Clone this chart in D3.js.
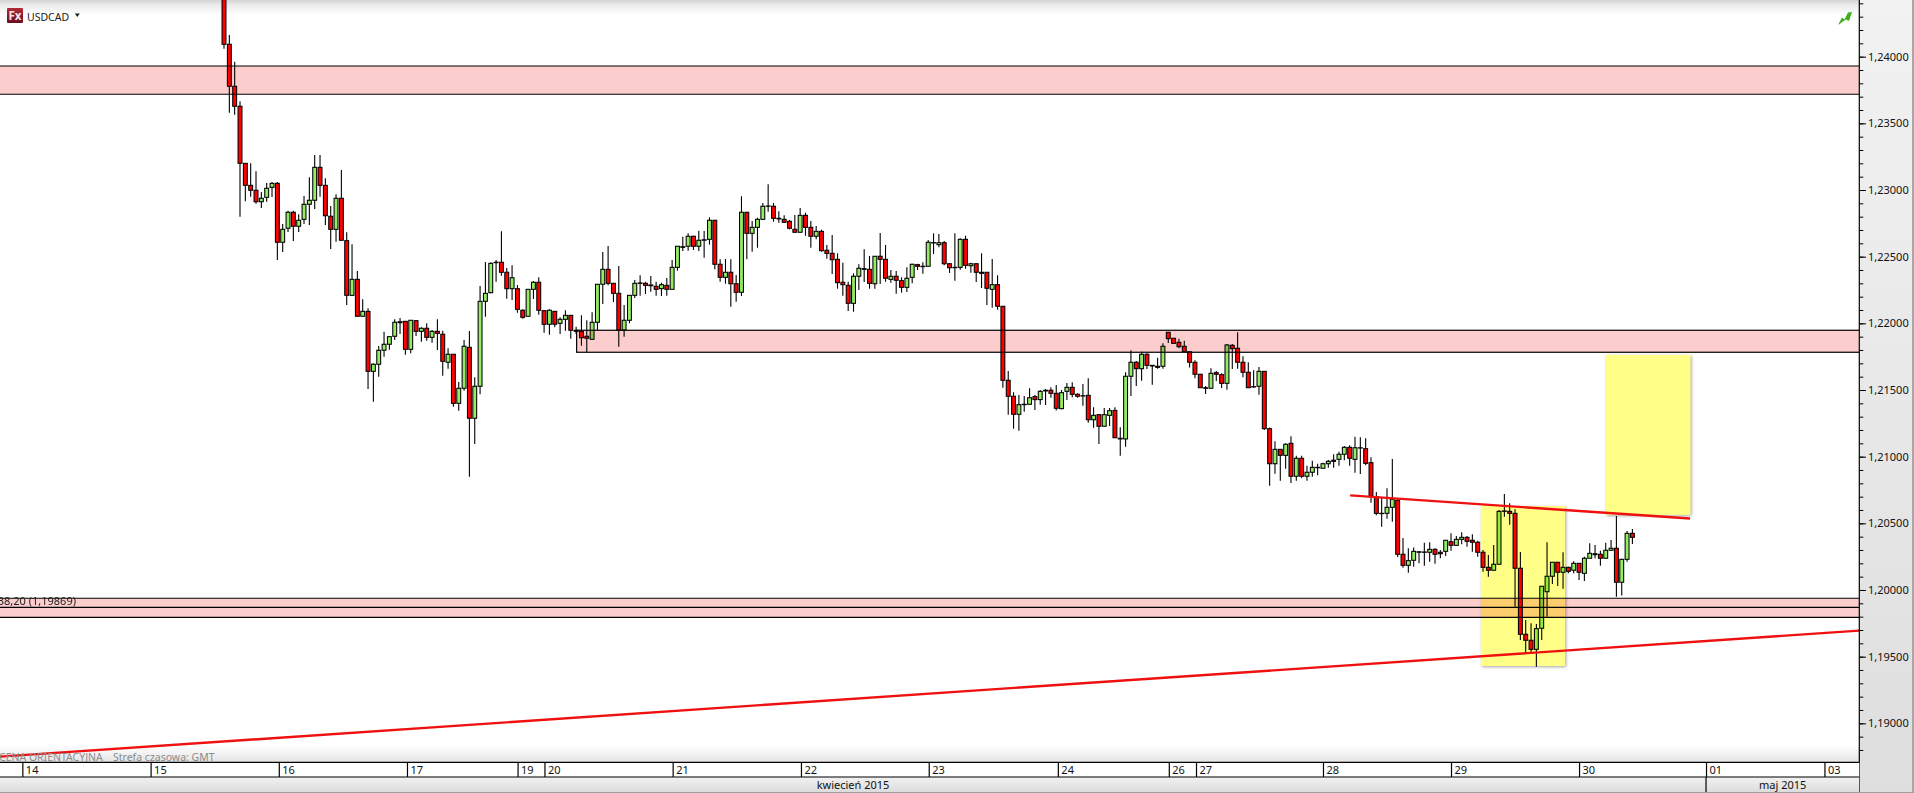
<!DOCTYPE html>
<html><head><meta charset="utf-8">
<script src="https://cdn.jsdelivr.net/npm/d3@7"></script>
<style>
html,body{margin:0;padding:0;background:#fff;overflow:hidden}
svg{display:block;font-family:"Noto Sans",sans-serif}
.mul{mix-blend-mode:multiply}
</style></head><body>
<svg id="c" width="1914" height="793"></svg>
<script>
// Prices in points (1 point = 0.00001)
const highs=[124470,124162,123962,123665,123200,123200,123140,122985,123052,123060,
123060,122745,122845,122845,122818,122955,123095,123263,123263,123088,
122880,122968,123150,122683,122593,122393,122180,122113,121700,121830,
121937,121905,122030,122040,122015,122025,122025,121970,122000,121950,
122030,121945,121813,121768,121560,121875,121943,121595,122280,122460,
122458,122475,122690,122415,122435,122288,122105,122255,122318,122345,
122100,122105,122090,122045,122098,122060,121975,122060,122023,122083,
122295,122535,122580,122300,122430,122138,122210,122325,122360,122312,
122355,122312,122305,122340,122475,122578,122650,122675,122657,122695,
122693,122795,122773,122480,122483,122480,122363,122953,122833,122768,
122792,122903,123043,122903,122840,122810,122775,122813,122865,122830,
122768,122730,122702,122588,122663,122525,122455,122312,122375,122443,
122555,122505,122505,122678,122588,122400,122393,122345,122420,122447,
122447,122458,122625,122675,122670,122618,122450,122675,122638,122657,
122455,122450,122525,122383,122483,122360,122128,121643,121483,121463,
121455,121513,121463,121500,121508,121520,121538,121500,121553,121558,
121475,121545,121588,121370,121320,121365,121365,121370,121220,121633,
121798,121718,121787,121775,121688,121742,121850,121935,121888,121885,
121870,121787,121723,121618,121530,121663,121643,121625,121845,121845,
121933,121753,121708,121648,121673,121640,121218,121115,121055,121100,
121153,121007,121007,120932,120970,120947,120955,120975,121018,121037,
121080,121085,121150,121145,121138,120995,120735,120698,120763,120983,
120680,120390,120313,120318,120290,120355,120358,120313,120300,120375,
120425,120405,120433,120405,120418,120370,120300,120263,120338,120600,
120720,120650,120605,120285,119775,119750,119745,120030,120358,120208,
120208,120283,120175,120215,120200,120250,120350,120338,120295,120355,
120375,120555,120235,120443,120458];
const lows=[124060,123580,123565,122800,122915,122950,122897,122865,122912,122948,
122475,122535,122685,122618,122685,122745,122738,122858,122950,122738,
122558,122612,122623,122138,122205,122053,122053,121508,121412,121600,
121750,121802,121875,121920,121765,121775,121905,121862,121870,121855,
121800,121607,121660,121375,121345,121495,120850,121095,121468,122050,
122225,122312,122357,122185,122175,122080,122035,122053,122183,122065,
121930,121915,121970,121920,121945,121885,121920,121832,121783,121880,
121950,122145,122285,122160,121825,121900,122000,122190,122207,122220,
122237,122207,122205,122207,122255,122395,122543,122545,122550,122543,
122492,122590,122405,122312,122297,122125,122162,122205,122480,122537,
122567,122780,122837,122762,122755,122755,122705,122680,122683,122657,
122567,122630,122537,122485,122370,122260,122207,122093,122087,122250,
122310,122260,122260,122295,122312,122305,122222,122230,122235,122300,
122400,122372,122428,122520,122570,122435,122378,122320,122402,122410,
122380,122310,122265,122138,122117,122102,121517,121315,121210,121195,
121337,121393,121350,121390,121388,121442,121347,121355,121425,121445,
121442,121382,121255,121217,121095,121228,121230,121142,121007,121075,
121455,121530,121570,121658,121540,121660,121660,121853,121850,121813,
121787,121668,121588,121515,121470,121513,121568,121515,121502,121658,
121660,121595,121517,121517,121465,121200,120782,120872,120820,120910,
120803,120820,120838,120820,120850,120860,120913,120917,120917,120932,
120973,120932,120880,120870,120935,120655,120560,120475,120535,120512,
120248,120167,120130,120175,120200,120182,120212,120197,120238,120255,
120295,120330,120343,120325,120287,120250,120137,120100,120148,120193,
120550,120490,119875,119625,119520,119525,119425,119625,119800,120045,
120030,120010,120125,120125,120075,120068,120238,120238,120182,120238,
120298,119950,119958,120212,120345];
const opens=[124470,124093,123778,123628,123200,123035,122998,122912,122945,123020,
123050,122608,122713,122833,122728,122780,122893,122923,123170,123035,
122803,122705,122938,122620,122210,122330,122053,122090,121640,121693,
121798,121843,121903,122005,122015,121805,122020,121940,121963,121895,
121940,121918,121708,121768,121400,121513,121820,121288,121528,122165,
122230,122455,122458,122383,122260,122260,122098,122053,122255,122308,
122095,121993,122090,122000,122030,122060,121948,121940,121903,121880,
122008,122293,122405,122300,122225,121950,122023,122210,122300,122300,
122288,122278,122260,122285,122255,122420,122570,122578,122653,122578,
122623,122630,122773,122443,122345,122383,122297,122233,122833,122675,
122720,122780,122878,122878,122788,122780,122765,122705,122683,122810,
122720,122653,122690,122548,122525,122480,122308,122285,122150,122353,
122405,122405,122297,122503,122480,122330,122353,122320,122270,122345,
122440,122428,122428,122603,122590,122605,122447,122420,122420,122630,
122432,122447,122383,122383,122255,122290,122128,121573,121453,121318,
121390,121393,121450,121428,121493,121498,121475,121360,121490,121520,
121468,121457,121460,121277,121315,121228,121310,121347,121138,121133,
121603,121708,121660,121768,121685,121678,121678,121933,121888,121858,
121828,121787,121708,121618,121517,121513,121630,121615,121550,121835,
121813,121708,121633,121525,121528,121640,121210,120947,121055,121010,
121100,120853,120988,120853,120883,120917,120913,120947,120965,120980,
121018,121070,120980,121065,121060,120955,120698,120575,120575,120620,
120673,120268,120185,120223,120283,120283,120283,120305,120283,120290,
120362,120335,120380,120395,120373,120358,120283,120170,120148,120193,
120590,120590,120575,120163,119668,119623,119555,119713,119987,120103,
120208,120133,120170,120148,120200,120125,120238,120265,120268,120238,
120298,120313,120058,120230,120425];
const closes=[124093,123778,123628,123200,123035,122998,122912,122938,123013,123050,
122608,122705,122833,122728,122773,122893,122923,123170,123035,122807,
122705,122938,122623,122210,122330,122053,122090,121640,121693,121798,
121843,121900,122008,122012,121805,122023,121940,121963,121895,121940,
121925,121715,121768,121400,121513,121828,121288,121528,122165,122225,
122450,122458,122383,122260,122342,122105,122045,122255,122308,122098,
121993,122098,121993,122030,122060,121948,121940,121892,121888,122008,
122293,122405,122300,122225,121950,122023,122210,122300,122303,122285,
122282,122255,122290,122255,122420,122578,122575,122653,122578,122623,
122627,122773,122443,122345,122383,122297,122233,122833,122675,122720,
122780,122878,122880,122788,122783,122758,122713,122683,122810,122720,
122653,122690,122545,122525,122477,122305,122290,122150,122353,122413,
122410,122300,122503,122480,122338,122353,122323,122270,122338,122443,
122428,122425,122608,122605,122605,122447,122417,122417,122630,122435,
122447,122383,122375,122263,122290,122128,121573,121453,121318,121390,
121393,121442,121428,121490,121498,121475,121363,121480,121520,121468,
121453,121455,121277,121310,121228,121315,121345,121142,121133,121603,
121708,121660,121768,121685,121680,121670,121828,121885,121850,121825,
121787,121708,121618,121517,121513,121625,121618,121550,121838,121810,
121708,121633,121517,121523,121640,121210,120947,121055,121010,121093,
120853,120988,120853,120883,120920,120920,120947,120965,120973,121018,
121070,120988,121067,121067,120950,120705,120575,120573,120620,120680,
120268,120185,120220,120290,120287,120285,120305,120268,120272,120373,
120335,120380,120395,120365,120358,120283,120170,120148,120193,120590,
120593,120575,120163,119668,119623,119555,119710,120028,120103,120208,
120133,120170,120140,120200,120133,120238,120275,120272,120238,120298,
120313,120058,120230,120425,120395];

const dayTickPos=[-37.8,-13.76,10.27,34.3,55.03,60.07,84.1,108.15,132.1,156.3,177.1,182.2,206,230,254,277.8,300];
const dayLabels=["14","15","16","17","19","20","21","22","23","24","26","27","28","29","30","01","03"];
const monthLabels=["kwiecień 2015","maj 2015"];
const monthStart=277.8;
const priceLabelValues=[1.24,1.235,1.23,1.225,1.22,1.215,1.21,1.205,1.2,1.195,1.19];
const zonesFull=[[123930,123718],[119938,119795]];
const zonePartial={from:66.1,top:121948,bottom:121783};
const fibLevel=119870;
const fibLabel="38,20 (1,19869)";
const highlights=[{a:235.6,b:251.4,top:120630,bottom:119430},{a:259,b:274.9,top:121763,bottom:120563}];
const trendLines=[{a:211.1,b:274.8,pa:120710,pb:120536},{a:-41.99,b:306.5,pa:118750,pb:119695}];

const PT=1e-5, W=1914, H=793, R=1859.3, T1=762.3, T2=777, T3=792;
const svg=d3.select("#c");
const x=d3.scaleLinear().domain([0,264]).range([224,1632.4]);
const y=d3.scaleLinear().domain([1.24,1.19]).range([56.67,723.33]);
const yp=p=>y(p*PT);
const defs=svg.append("defs");
function grad(id,stops){const g=defs.append("linearGradient").attr("id",id).attr("x1",0).attr("x2",0).attr("y1",0).attr("y2",1);
 stops.forEach(s=>g.append("stop").attr("offset",s[0]).attr("stop-color",s[1]));}
grad("gTop",[[0,"#d4d4d4"],[.35,"#ececec"],[1,"#ffffff"]]);
grad("gBot",[[0,"#ffffff"],[1,"#e4e4e4"]]);
grad("gRight",[[0,"#f2f2f2"],[1,"#dedede"]]);
grad("gMonth",[[0,"#f2f2f2"],[1,"#dcdcdc"]]);
grad("gIcon",[[0,"#b02a3a"],[1,"#6e0f1c"]]);
defs.append("clipPath").attr("id","plot").append("rect").attr("x",0).attr("y",0).attr("width",R).attr("height",T1);

svg.append("rect").attr("width",W).attr("height",H).attr("fill","#fff");
svg.append("rect").attr("width",R).attr("height",15).attr("fill","url(#gTop)");
svg.append("rect").attr("y",745).attr("width",R).attr("height",T1-745).attr("fill","url(#gBot)");

const plot=svg.append("g").attr("clip-path","url(#plot)");
const idx=d3.range(opens.length);
const bodyW=3.9;
const candles=plot.append("g");
candles.selectAll("line.w").data(idx).join("line").attr("class","w")
 .attr("x1",i=>x(i)).attr("x2",i=>x(i)).attr("y1",i=>yp(highs[i])).attr("y2",i=>yp(lows[i]))
 .attr("stroke","#000").attr("stroke-width",1.1);
candles.selectAll("rect.b").data(idx).join("rect").attr("class","b")
 .attr("x",i=>x(i)-bodyW/2).attr("width",bodyW)
 .attr("y",i=>yp(Math.max(opens[i],closes[i])))
 .attr("height",i=>Math.max(0.3,Math.abs(yp(opens[i])-yp(closes[i]))))
 .attr("fill",i=>closes[i]>opens[i]?"#93EC62":"#FF0000")
 .attr("stroke","#000").attr("stroke-width",1.05);

// zones, multiplied over the candles
const zoneFill="#FCCDCD";
const zg=plot.append("g");
zg.selectAll("rect.z").data(zonesFull).join("rect").attr("class","z mul")
 .attr("x",-2).attr("width",R+2).attr("y",d=>yp(d[0])).attr("height",d=>yp(d[1])-yp(d[0]))
 .attr("fill",zoneFill);
zg.selectAll("g.l").data(zonesFull.flat().concat([fibLevel])).join("line")
 .attr("x1",0).attr("x2",R).attr("y1",d=>yp(d)).attr("y2",d=>yp(d)).attr("stroke","#000").attr("stroke-width",1.2);
zg.append("rect").attr("class","mul").attr("x",x(zonePartial.from)).attr("width",R-x(zonePartial.from))
 .attr("y",yp(zonePartial.top)).attr("height",yp(zonePartial.bottom)-yp(zonePartial.top)).attr("fill",zoneFill);
zg.append("rect").attr("x",x(zonePartial.from)).attr("width",R-x(zonePartial.from)+4)
 .attr("y",yp(zonePartial.top)).attr("height",yp(zonePartial.bottom)-yp(zonePartial.top))
 .attr("fill","none").attr("stroke","#000").attr("stroke-width",1.2);

plot.append("g").selectAll("rect").data(highlights).join("rect").attr("class","mul")
 .attr("x",d=>x(d.a)).attr("width",d=>x(d.b)-x(d.a)).attr("y",d=>yp(d.top)).attr("height",d=>yp(d.bottom)-yp(d.top))
 .attr("fill","#FFFF88").style("filter","drop-shadow(1px 1px 1.5px rgba(0,0,0,.35))");

plot.append("g").selectAll("line").data(trendLines).join("line")
 .attr("x1",d=>x(d.a)).attr("x2",d=>x(d.b)).attr("y1",d=>yp(d.pa)).attr("y2",d=>yp(d.pb))
 .attr("stroke","#F01010").attr("stroke-width",2.4);

plot.append("text").attr("x",76).attr("y",yp(fibLevel)-2.5).attr("text-anchor","end")
 .attr("font-size",11).attr("fill","#222").text(fibLabel);

// status line
svg.append("text").attr("x",-1).attr("y",761).attr("font-size",10.5).attr("fill","#8c8c8c").text("CENA ORIENTACYJNA");
svg.append("text").attr("x",113).attr("y",761).attr("font-size",10.5).attr("fill","#8c8c8c").text("Strefa czasowa: GMT");

// right panel and price axis
svg.append("rect").attr("x",R).attr("width",W-R).attr("height",H).attr("fill","url(#gRight)");
svg.append("rect").attr("x",W-2).attr("width",2).attr("height",H).attr("fill","#a8a8a8");
const allTicks=d3.range(1188,1245).map(v=>v/1000);
const yAxisMinor=d3.axisRight(y).tickValues(allTicks).tickSize(4).tickFormat("");
const yAxisMajor=d3.axisRight(y).tickValues(priceLabelValues).tickSize(6.7).tickPadding(2)
 .tickFormat(d=>d3.format(".5f")(d).replace(".",","));
const gMinor=svg.append("g").attr("transform",`translate(${R},0)`).call(yAxisMinor);
gMinor.select(".domain").remove();
gMinor.selectAll("line").attr("stroke","#000");
const gMajor=svg.append("g").attr("transform",`translate(${R},0)`).call(yAxisMajor);
gMajor.select(".domain").remove();
gMajor.selectAll("line").attr("stroke","#000");
gMajor.selectAll("text").attr("font-family",'"Noto Sans",sans-serif').attr("font-size",11).attr("fill","#111");
svg.append("line").attr("x1",R).attr("x2",R).attr("y1",0).attr("y2",T3).attr("stroke","#000").attr("stroke-width",1.2);

// date rows
svg.append("rect").attr("y",T1).attr("width",R).attr("height",T2-T1).attr("fill","#fff");
svg.append("rect").attr("y",T2).attr("width",R).attr("height",T3-T2).attr("fill","url(#gMonth)");
svg.append("rect").attr("y",T3).attr("width",W).attr("height",1).attr("fill","#a0a0a0");
const xAxis=d3.axisBottom(x).tickValues(dayTickPos).tickSize(T2-T1).tickFormat((d,i)=>dayLabels[i]);
const gx=svg.append("g").attr("transform",`translate(0,${T1})`).call(xAxis);
gx.select(".domain").remove();
gx.selectAll("line").attr("stroke","#000").attr("stroke-width",1.2);
gx.selectAll("text").attr("font-family",'"Noto Sans",sans-serif').attr("font-size",11).attr("fill","#111")
 .attr("text-anchor","start").attr("dx",3).attr("y",3.5).attr("dy","0.71em");
[T1,T2].forEach(v=>svg.append("line").attr("x1",0).attr("x2",R).attr("y1",v).attr("y2",v).attr("stroke","#000").attr("stroke-width",1.2));
svg.append("line").attr("x1",x(monthStart)).attr("x2",x(monthStart)).attr("y1",T2).attr("y2",T3).attr("stroke","#000").attr("stroke-width",1.2);
svg.selectAll("text.m").data(monthLabels).join("text").attr("class","m")
 .attr("x",(d,i)=>i?(x(monthStart)+R)/2:x(monthStart)/2).attr("y",788.5).attr("text-anchor","middle")
 .attr("font-size",11).attr("fill","#111").text(d=>d);

// header
svg.append("rect").attr("x",7).attr("y",8).attr("width",16).attr("height",15).attr("rx",1).attr("fill","url(#gIcon)");
svg.append("text").attr("x",15).attr("y",20).attr("text-anchor","middle").attr("font-size",11.5).attr("font-weight",700).attr("fill","#f4e8e8").text("Fx");
svg.append("text").attr("x",27).attr("y",21).attr("font-size",10.5).attr("fill","#222").text("USDCAD");
svg.append("path").attr("d","M74.8 13.5h5l-2.5 3.5z").attr("fill","#222");
svg.append("path").attr("d","M1838 25L1842 17.5L1844.5 19.5L1848 12.5L1852 12L1849 21L1846 19.5L1843 21.5Z").attr("fill","#3fae1e");
</script></body></html>
